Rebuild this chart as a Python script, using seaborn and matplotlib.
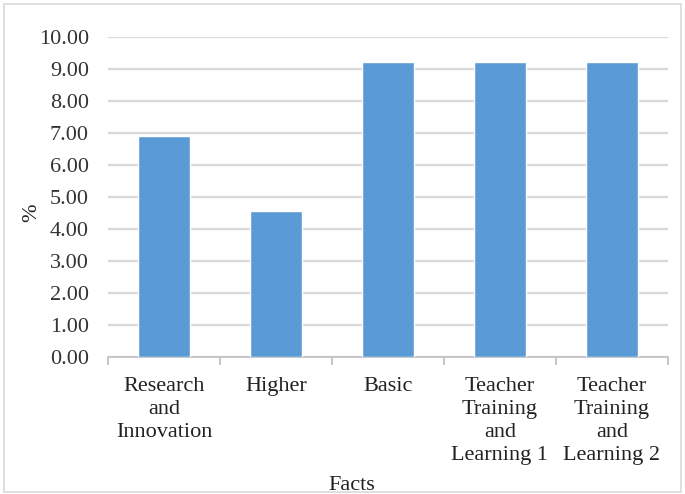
import matplotlib

matplotlib.use("Agg")
import matplotlib.pyplot as plt
import pandas as pd
import seaborn as sns
from matplotlib.patches import Rectangle

BAR_BLUE = "#5B9BD5"
GRID_GREY = "#D9D9D9"

categories = [
    "Research\nand\nInnovation",
    "Higher",
    "Basic",
    "Teacher\nTraining\nand\nLearning 1",
    "Teacher\nTraining\nand\nLearning 2",
]
values = [6.90, 4.58, 9.22, 9.22, 9.22]
y_ticks = [0, 1, 2, 3, 4, 5, 6, 7, 8, 9, 10]

sns.set_theme(style="white")
plt.rcParams["font.family"] = ["Liberation Serif", "DejaVu Serif"]

data = pd.DataFrame({"Facts": categories, "%": values})

fig = plt.figure(figsize=(6.85, 4.94), dpi=100)
ax = fig.add_axes([0.158, 0.277, 0.817, 0.648])

sns.barplot(data=data, x="Facts", y="%", color=BAR_BLUE, width=0.46,
            saturation=1, ax=ax, zorder=3)

ax.set_ylim(0, 10)
ax.set_xlim(-0.5, len(categories) - 0.5)
ax.set_yticks(y_ticks)
ax.set_yticklabels([f"{v:.2f}" for v in y_ticks], fontsize=16, color="#333333")
ax.yaxis.grid(True, color=GRID_GREY, linewidth=1.6, zorder=0)
ax.set_axisbelow(True)

# category-boundary tick marks on the bottom axis
ax.set_xticks([i - 0.5 for i in range(len(categories) + 1)], minor=True)
ax.tick_params(axis="x", which="minor", bottom=True, length=6, width=1.2,
               color="#BFBFBF")
ax.tick_params(axis="x", which="major", bottom=False, pad=8)
ax.tick_params(axis="y", left=False, pad=8)
ax.set_xticks(range(len(categories)))
ax.set_xticklabels(categories, fontsize=16, color="#222222", linespacing=1.3)

for side in ["top", "right", "left"]:
    ax.spines[side].set_visible(False)
ax.spines["bottom"].set_color("#BFBFBF")
ax.spines["bottom"].set_linewidth(1.2)

ax.set_xlabel("Facts", fontsize=16, color="#222222")
ax.set_ylabel("%", fontsize=16, color="#222222")
ax.xaxis.set_label_coords(0.436, -0.372)
ax.yaxis.set_label_coords(-0.12, 0.45)

fig.patches.append(Rectangle((0.006, 0.004), 0.988, 0.988, transform=fig.transFigure,
                             fill=False, edgecolor="#D9D9D9", linewidth=1.2))

fig.savefig("out.png", dpi=100, facecolor="white")
